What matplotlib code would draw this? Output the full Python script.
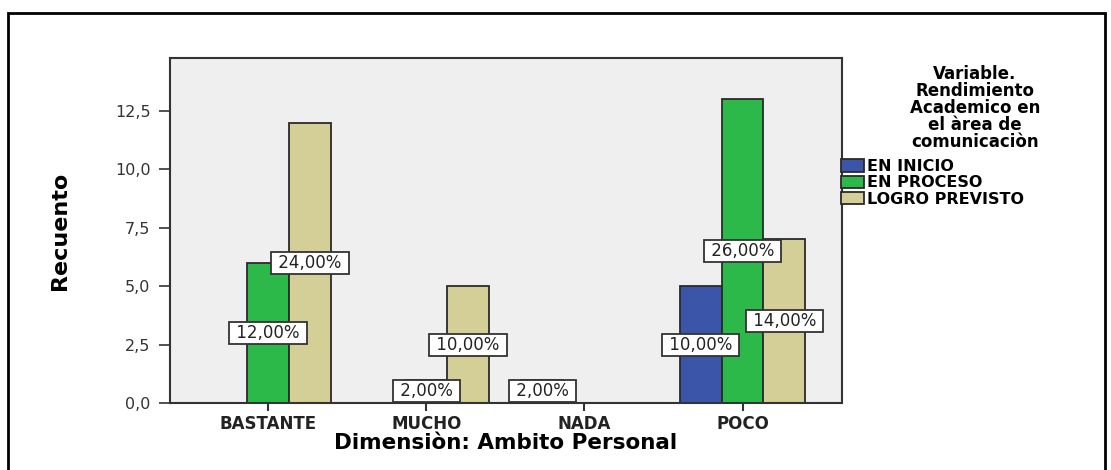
import numpy as np
import matplotlib
matplotlib.use("Agg")
import matplotlib.pyplot as plt
from matplotlib.patches import Rectangle

categorias = ["BASTANTE", "MUCHO", "NADA", "POCO"]
series = ["EN INICIO", "EN PROCESO", "LOGRO PREVISTO"]
en_inicio = [0, 0, 1, 5]
en_proceso = [6, 1, 0, 13]
logro_previsto = [12, 5, 0, 7]
colores = ["#3b55a8", "#2db84a", "#d3cf97"]
yticks = [0, 2.5, 5, 7.5, 10, 12.5]

valores = [en_inicio, en_proceso, logro_previsto]
total = sum(sum(v) for v in valores)

fig = plt.figure(figsize=(11.11, 4.70), dpi=100)
ax = fig.add_axes([0.153, 0.1426, 0.605, 0.734])
ax.set_facecolor("#efefef")

x = np.arange(len(categorias))
w = 0.265
for i, (nombre, vals, col) in enumerate(zip(series, valores, colores)):
    pos = x + (i - 1) * w
    ax.bar(pos, vals, width=w, color=col, edgecolor="#2a2a2a", linewidth=1.3,
           label=nombre, zorder=2)
    for xp, v in zip(pos, vals):
        if v > 0:
            txt = " " + f"{v / total * 100:.2f}%".replace(".", ",") + " "
            ax.text(xp, v / 2, txt, ha="center", va="center", fontsize=12,
                    color="#222222", zorder=4,
                    bbox=dict(boxstyle="square,pad=0.12", fc="white",
                              ec="#333333", lw=1.3))

ax.set_xlim(-0.62, 3.63)
ax.set_ylim(0, 14.77)
ax.set_xticks(x)
ax.set_xticklabels(categorias, fontsize=12, fontweight="bold", color="#222222")
ax.set_yticks(yticks)
ax.set_yticklabels([f"{t:.1f}".replace(".", ",") for t in yticks], fontsize=11.5,
                   color="#333333")
ax.tick_params(axis="y", length=8, width=1.2, color="#333333", pad=6)
ax.tick_params(axis="x", length=6, width=1.5, color="#333333", pad=3)
for s in ax.spines.values():
    s.set_linewidth(1.5)
    s.set_color("#333333")

ax.set_ylabel("Recuento", fontsize=16, fontweight="bold", labelpad=32)
ax.set_xlabel("Dimensiòn: Ambito Personal", fontsize=15.5, fontweight="bold", labelpad=0)

fig.text(975 / 1111, 1 - 65 / 470,
         "Variable.\nRendimiento\nAcademico en\nel àrea de\ncomunicaciòn",
         ha="center", va="top", fontsize=12, fontweight="bold", linespacing=0.92)

leg = fig.legend(loc="upper left", bbox_to_anchor=(841 / 1111, 1 - 159 / 470),
                 frameon=False, prop={"weight": "bold", "size": 11.5},
                 handlelength=1.45, handleheight=0.8, handletextpad=0.15,
                 labelspacing=0.08, borderaxespad=0, borderpad=0)

fig.patches.append(Rectangle((8 / 1111, -0.05), 1097 / 1111, 1.05 - 13 / 470,
                             transform=fig.transFigure, fill=False,
                             edgecolor="black", linewidth=2))

fig.savefig("out.png", dpi=100)
